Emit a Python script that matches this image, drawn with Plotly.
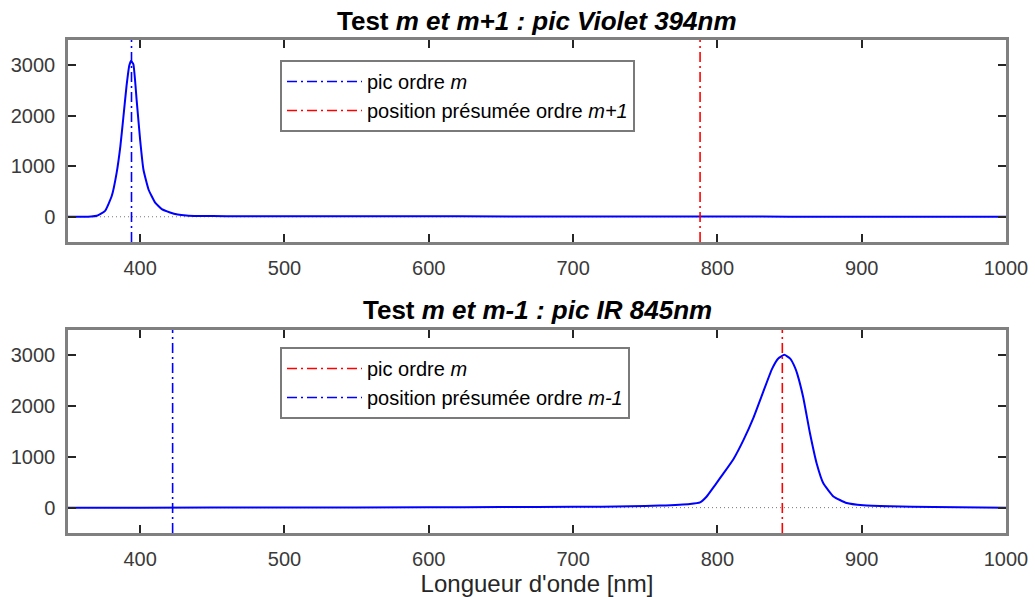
import plotly.graph_objects as go

# ---- Data ----
wl_violet = [350, 360, 366, 370, 375.7, 380.3, 383.7, 386.3, 388.3, 390.6, 392.5, 393.7,
             395.3, 397.6, 400, 402.3, 405.8, 410.4, 415, 420.7, 426, 432, 440, 460,
             500, 560, 620, 700, 800, 900, 1000]
I_violet = [0, 0, 5, 20, 117, 410, 870, 1400, 1950, 2600, 3000, 3085,
            3020, 2300, 1520, 930, 540, 280, 150, 85, 45, 25, 15, 12,
            8, 12, 8, 5, 3, 2, 0]

wl_ir = [350, 400, 500, 600, 650, 700, 740, 760, 781, 788, 792.6, 798.3, 804.1, 811.2,
         818.2, 825.1, 832, 837.8, 842.2, 846.4, 850.3, 853.8, 855.4, 859.5, 864.2,
         868.8, 873.4, 880.4, 889.6, 901.1, 919.6, 950, 1000]
I_ir = [0, 0, 2, 5, 10, 15, 25, 40, 72, 104, 220, 440, 670, 960,
        1340, 1780, 2300, 2730, 2940, 3010, 2940, 2760, 2630, 2170, 1460,
        870, 480, 220, 90, 45, 25, 10, 0]

peak_violet = 394
presumed_m_plus_1 = 788
peak_ir = 845
presumed_m_minus_1 = 422.5

x_range = [350, 1000]
y_range = [-500, 3500]
x_ticks = [400, 500, 600, 700, 800, 900, 1000]
y_ticks = [0, 1000, 2000, 3000]

title_top = "<b>Test <i>m et m+1 : pic Violet 394nm</i></b>"
title_bottom = "<b>Test <i>m et m-1 : pic IR 845nm</i></b>"
xlabel = "Longueur d'onde [nm]"

BLUE = "#0000FF"
RED = "#FF0000"
FONT = "Liberation Sans, Arial, sans-serif"
DASHDOT = "10px,4px,2px,4px"

fig = go.Figure()

# ---- top subplot ----
fig.add_trace(go.Scatter(x=x_range, y=[0, 0], mode="lines", xaxis="x", yaxis="y",
                         line=dict(color="#777777", width=1, dash="1px,3px"), showlegend=False))
fig.add_trace(go.Scatter(x=wl_violet, y=I_violet, mode="lines", xaxis="x", yaxis="y",
                         line=dict(color=BLUE, width=2, shape="spline", smoothing=0.4),
                         showlegend=False))
fig.add_trace(go.Scatter(x=[peak_violet, peak_violet], y=y_range, mode="lines", xaxis="x", yaxis="y",
                         line=dict(color=BLUE, width=1.6, dash=DASHDOT),
                         name="pic ordre <i>m</i>", legend="legend"))
fig.add_trace(go.Scatter(x=[presumed_m_plus_1, presumed_m_plus_1], y=y_range, mode="lines",
                         xaxis="x", yaxis="y",
                         line=dict(color=RED, width=1.6, dash=DASHDOT),
                         name="position présumée ordre <i>m+1</i>", legend="legend"))

# ---- bottom subplot ----
fig.add_trace(go.Scatter(x=x_range, y=[0, 0], mode="lines", xaxis="x2", yaxis="y2",
                         line=dict(color="#777777", width=1, dash="1px,3px"), showlegend=False))
fig.add_trace(go.Scatter(x=wl_ir, y=I_ir, mode="lines", xaxis="x2", yaxis="y2",
                         line=dict(color=BLUE, width=2, shape="spline", smoothing=0.4),
                         showlegend=False))
fig.add_trace(go.Scatter(x=[peak_ir, peak_ir], y=y_range, mode="lines", xaxis="x2", yaxis="y2",
                         line=dict(color=RED, width=1.6, dash=DASHDOT),
                         name="pic ordre <i>m</i>", legend="legend2"))
fig.add_trace(go.Scatter(x=[presumed_m_minus_1, presumed_m_minus_1], y=y_range, mode="lines",
                         xaxis="x2", yaxis="y2",
                         line=dict(color=BLUE, width=1.6, dash=DASHDOT),
                         name="position présumée ordre <i>m-1</i>", legend="legend2"))

axis_common = dict(
    showgrid=False, zeroline=False, showline=True, mirror="ticks", automargin=False,
    linecolor="#808080", linewidth=2.5, ticks="inside", ticklen=8, tickwidth=1.5,
    tickcolor="#262626",
    tickfont=dict(family=FONT, size=20, color="#3a3a3a"),
)

legend_common = dict(
    bgcolor="white", bordercolor="#7a7a7a", borderwidth=2,
    font=dict(family=FONT, size=20, color="#000000"),
    xanchor="left", yanchor="top", tracegroupgap=0, itemwidth=75,
)

H, W = 597, 1035
mt, mb, ml, mr = 40, 64, 68, 29
plot_h = H - mt - mb

fig.update_layout(
    template="none",
    width=W, height=H,
    margin=dict(t=mt, b=mb, l=ml, r=mr, autoexpand=False),
    paper_bgcolor="white", plot_bgcolor="white",
    font=dict(family=FONT, color="#262626"),
    xaxis=dict(axis_common, range=x_range, tickvals=x_ticks, anchor="y", domain=[0, 1],
               ticklabelstandoff=6),
    yaxis=dict(axis_common, range=y_range, tickvals=y_ticks, anchor="x",
               domain=[(H - mb - 242) / plot_h, 1], ticklabelstandoff=6),
    xaxis2=dict(axis_common, range=x_range, tickvals=x_ticks, anchor="y2", domain=[0, 1],
                ticklabelstandoff=6,
                title=dict(text=xlabel, font=dict(family=FONT, size=24, color="#262626"),
                           standoff=6)),
    yaxis2=dict(axis_common, range=y_range, tickvals=y_ticks, anchor="x2",
                domain=[0, (H - mb - 330) / plot_h], ticklabelstandoff=6),
    legend=dict(legend_common, x=(280 - ml) / (W - ml - mr), y=(H - mb - 60) / plot_h),
    legend2=dict(legend_common, x=(280 - ml) / (W - ml - mr), y=(H - mb - 347) / plot_h),
    annotations=[
        dict(text=title_top, xref="paper", yref="paper", x=0.5,
             y=(H - mb - 21) / plot_h, xanchor="center", yanchor="middle", showarrow=False,
             font=dict(family=FONT, size=26, color="#000000")),
        dict(text=title_bottom, xref="paper", yref="paper", x=0.5,
             y=(H - mb - 310) / plot_h, xanchor="center", yanchor="middle", showarrow=False,
             font=dict(family=FONT, size=26, color="#000000")),
    ],
)

fig.write_html(
    "out.html",
    config={"displayModeBar": False},
    post_script="document.body.style.margin='0';document.body.style.overflow='hidden';",
)
